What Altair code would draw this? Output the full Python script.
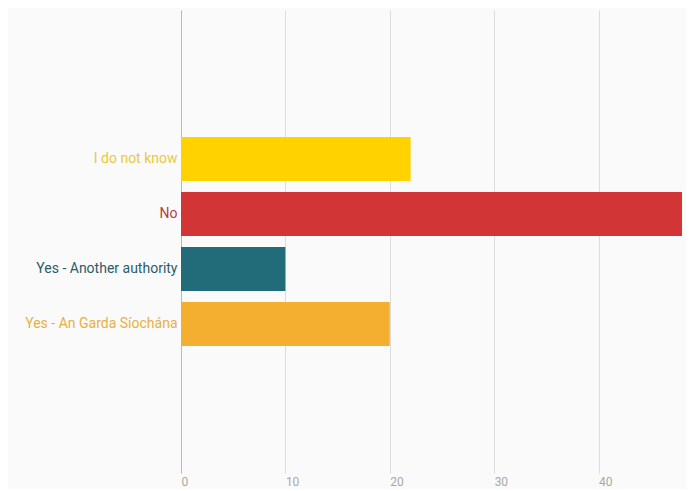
import altair as alt
import pandas as pd

categories = ["I do not know", "No", "Yes - Another authority", "Yes - An Garda Síochána"]
values = [22, 48, 10, 20]
colors = ["#FFD200", "#D13535", "#226C7A", "#F4AE30"]
label_colors = ["#E9C93A", "#B83C3C", "#2B5D69", "#E8B040"]
x_ticks = [0, 10, 20, 30, 40]

# empty slots above and below the bars (the reference leaves that space blank)
y_domain = [" ", "  "] + categories + ["   ", "    "]

df = pd.DataFrame({"category": categories, "value": values})

label_color_cond = {
    "condition": [
        {"test": f"datum.value == '{c}'", "value": lc}
        for c, lc in zip(categories[:-1], label_colors[:-1])
    ],
    "value": label_colors[-1],
}

FONT = "Roboto"

chart = (
    alt.Chart(df)
    .mark_bar()
    .encode(
        x=alt.X(
            "value:Q",
            scale=alt.Scale(domain=[0, 48], nice=False),
            axis=alt.Axis(
                values=x_ticks,
                title=None,
                grid=True,
                gridColor="#dcdcdc",
                domain=False,
                ticks=False,
                labelAlign="left",
                labelColor="#a8a8a8",
                labelFont=FONT,
                labelFontSize=12,
                labelPadding=3,
                labelFlush=False,
            ),
        ),
        y=alt.Y(
            "category:N",
            scale=alt.Scale(domain=y_domain, paddingInner=0.2, paddingOuter=0.31),
            axis=alt.Axis(
                title=None,
                domain=True,
                domainColor="#b8b8b8",
                ticks=False,
                labelPadding=4,
                labelFont=FONT,
                labelFontSize=14,
                labelColor=label_color_cond,
                labelLimit=300,
            ),
        ),
        color=alt.Color(
            "category:N",
            scale=alt.Scale(domain=categories, range=colors),
            legend=None,
        ),
    )
    .properties(
        width=501,
        height=463,
        autosize=alt.AutoSizeParams(type="none"),
        padding={"left": 173, "top": 2, "right": 4, "bottom": 16},
        background="#fafafa",
    )
    .configure_view(stroke=None)
)

chart.save("out.html", embed_options={"renderer": "svg", "actions": False})
